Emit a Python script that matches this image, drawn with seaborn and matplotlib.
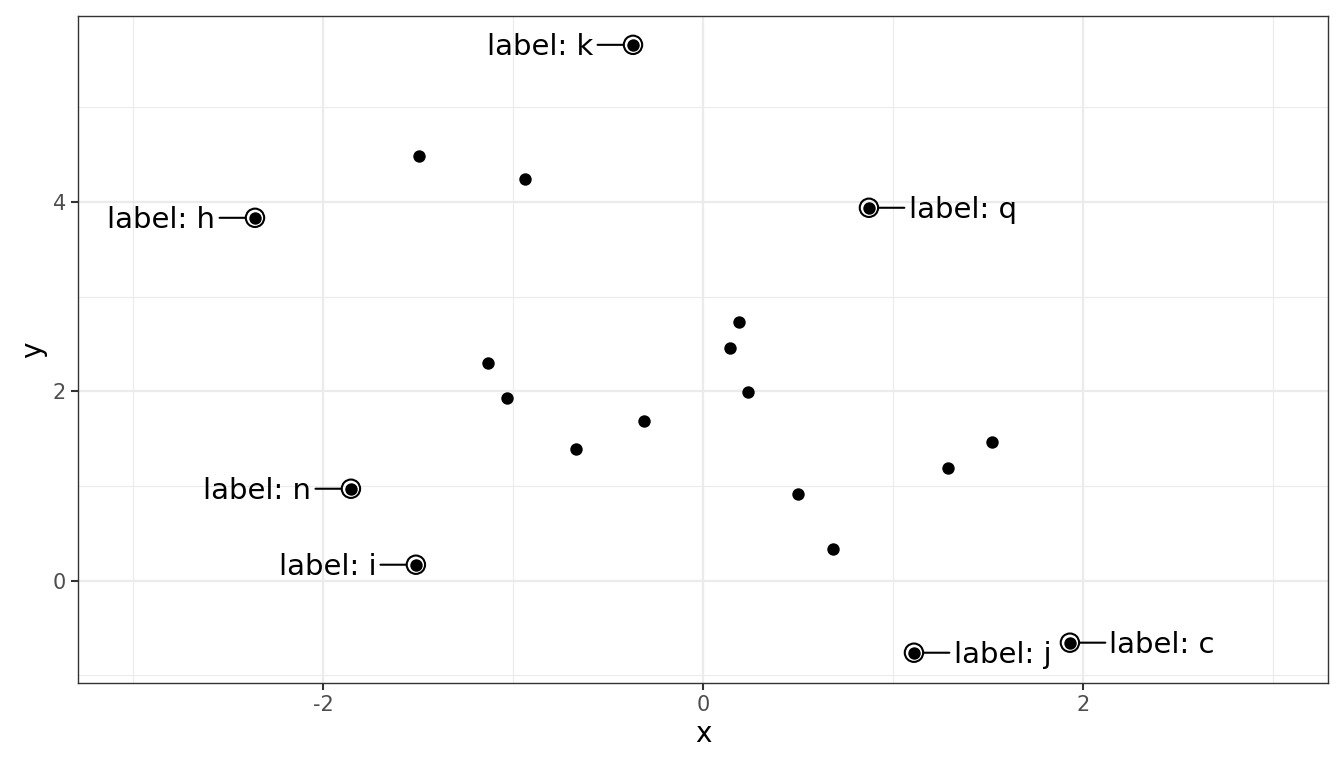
import numpy as np
import pandas as pd
import seaborn as sns
import matplotlib.pyplot as plt
from matplotlib.ticker import MultipleLocator

# plain points
pt_x = [-1.495, -0.937, 0.189, 0.142, -1.132, -1.030, 0.237, -0.310,
        -0.670, 1.521, 1.289, 0.500, 0.684]
pt_y = [4.486, 4.243, 2.733, 2.460, 2.303, 1.934, 1.987, 1.684,
        1.386, 1.467, 1.193, 0.918, 0.338]

# labelled points
lab_name = ["k", "h", "q", "n", "i", "j", "c"]
lab_x = [-0.368, -2.358, 0.874, -1.853, -1.511, 1.111, 1.932]
lab_y = [5.657, 3.831, 3.937, 0.971, 0.169, -0.760, -0.654]
lab_side = ["left", "left", "right", "left", "left", "right", "right"]

pts = pd.DataFrame({"x": pt_x + lab_x, "y": pt_y + lab_y})
labs = pd.DataFrame({"x": lab_x, "y": lab_y, "name": lab_name, "side": lab_side})

sns.set_theme(style="white")
plt.rcParams["font.family"] = ["DejaVu Sans"]
plt.rcParams["axes.unicode_minus"] = False

fig, ax = plt.subplots(figsize=(13.44, 7.68), dpi=100)
fig.subplots_adjust(left=0.058, right=0.988, top=0.979, bottom=0.111)

sns.scatterplot(data=pts, x="x", y="y", ax=ax, color="black", s=80,
                linewidth=0, zorder=3)
sns.scatterplot(data=labs, x="x", y="y", ax=ax, s=175, facecolor="none",
                edgecolor="black", linewidth=1.5, zorder=4)

for _, r in labs.iterrows():
    sgn = -1 if r.side == "left" else 1
    # connector segment, horizontal
    ax.annotate("", xy=(r.x, r.y), xytext=(sgn * 25.5, 0),
                textcoords="offset points",
                arrowprops=dict(arrowstyle="-", color="black", lw=1.5,
                                shrinkA=0, shrinkB=7))
    ax.annotate(f"label: {r['name']}", xy=(r.x, r.y), xytext=(sgn * 28.5, -1.5),
                textcoords="offset points",
                ha="right" if r.side == "left" else "left", va="center",
                fontsize=21, color="black")

ax.set_xlim(-3.29, 3.29)
ax.set_ylim(-1.077, 5.96)
ax.xaxis.set_major_locator(MultipleLocator(2))
ax.xaxis.set_minor_locator(MultipleLocator(1))
ax.yaxis.set_major_locator(MultipleLocator(2))
ax.yaxis.set_minor_locator(MultipleLocator(1))
ax.grid(which="major", color="#EBEBEB", linewidth=1.6)
ax.grid(which="minor", color="#EBEBEB", linewidth=0.8)
ax.set_axisbelow(True)

for sp in ax.spines.values():
    sp.set_color("#333333")
    sp.set_linewidth(1.0)

ax.tick_params(axis="both", which="major", length=5, width=1.5,
               color="#333333", labelcolor="#4D4D4D", labelsize=15,
               bottom=True, left=True)
ax.tick_params(axis="both", which="minor", length=0)
ax.set_xlabel("x", fontsize=20, color="black")
ax.set_ylabel("y", fontsize=20, color="black")

fig.savefig("out.png", dpi=100)
